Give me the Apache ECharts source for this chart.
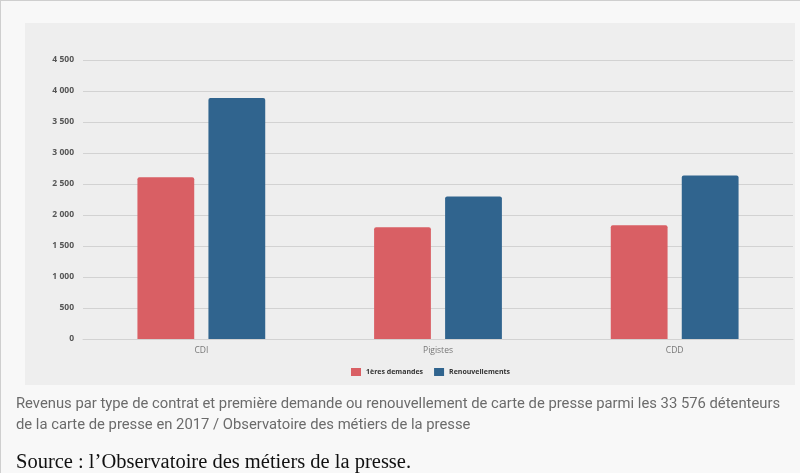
<!DOCTYPE html>
<html>
<head>
<meta charset="utf-8">
<script src="https://cdn.jsdelivr.net/npm/echarts@6/dist/echarts.min.js"></script>
<style>
html,body{margin:0;padding:0;background:#f8f8f8;}
#c{width:800px;height:473px;}
</style>
</head>
<body>
<div id="c"></div>
<script>
var categories = ['CDI', 'Pigistes', 'CDD'];
var seriesNames = ['1ères demandes', 'Renouvellements'];
var premieresDemandes = [2608, 1803, 1836];
var renouvellements = [3886, 2298, 2637];
var yTicks = {min: 0, max: 4500, interval: 500};
var captionLines = [
  'Revenus par type de contrat et première demande ou renouvellement de carte de presse parmi les 33 576 détenteurs',
  'de la carte de presse en 2017 / Observatoire des métiers de la presse'
];
var sourceText = 'Source : l\u2019Observatoire des métiers de la presse.';

var chart = echarts.init(document.getElementById('c'));
chart.setOption({
  backgroundColor: '#f8f8f8',
  animation: false,
  graphic: [
    {type: 'rect', z: -10, shape: {x: 25, y: 23, width: 770, height: 362}, style: {fill: '#eeeeee'}},
    {type: 'line', z: -5, shape: {x1: 0, y1: 0.5, x2: 800, y2: 0.5}, style: {stroke: '#cfcfcf', lineWidth: 1}},
    {type: 'line', z: -5, shape: {x1: 0.5, y1: 0, x2: 0.5, y2: 473}, style: {stroke: '#cfcfcf', lineWidth: 1}},
    {type: 'text', left: 16, top: 394, style: {text: captionLines.join('\n'), fill: '#6b6b6b', font: '14.8px Roboto', lineHeight: 21}},
    {type: 'text', left: 16, top: 452, style: {text: sourceText, fill: '#111111', font: '20.5px "Liberation Serif"'}}
  ],
  legend: {
    data: seriesNames,
    top: 363,
    left: 346,
    itemWidth: 10,
    itemHeight: 8,
    itemGap: 11,
    icon: 'rect',
    textStyle: {fontSize: 7, fontWeight: 'bold', color: '#333', fontFamily: 'Open Sans'}
  },
  grid: {left: 83, right: 7, top: 60, bottom: 134},
  xAxis: {
    type: 'category',
    data: categories,
    axisLine: {lineStyle: {color: '#d2d2d2'}},
    axisTick: {show: false},
    axisLabel: {color: '#777', fontSize: 8.5, margin: 7, fontFamily: 'Open Sans'}
  },
  yAxis: {
    type: 'value',
    min: yTicks.min,
    max: yTicks.max,
    interval: yTicks.interval,
    axisLine: {show: false},
    axisTick: {show: false},
    splitLine: {lineStyle: {color: '#d2d2d2', width: 1}},
    axisLabel: {
      color: '#555', fontSize: 8.5, fontWeight: 'bold', margin: 9, fontFamily: 'Open Sans',
      formatter: function (v) { return String(v).replace(/\B(?=(\d{3})+(?!\d))/g, ' '); }
    }
  },
  series: [
    {name: seriesNames[0], type: 'bar', data: premieresDemandes, barWidth: '24%', barGap: '25%',
     itemStyle: {color: '#d95f64', borderRadius: [2, 2, 0, 0]}},
    {name: seriesNames[1], type: 'bar', data: renouvellements, barWidth: '24%', barGap: '25%',
     itemStyle: {color: '#30648e', borderRadius: [2, 2, 0, 0]}}
  ]
});
</script>
</body>
</html>
